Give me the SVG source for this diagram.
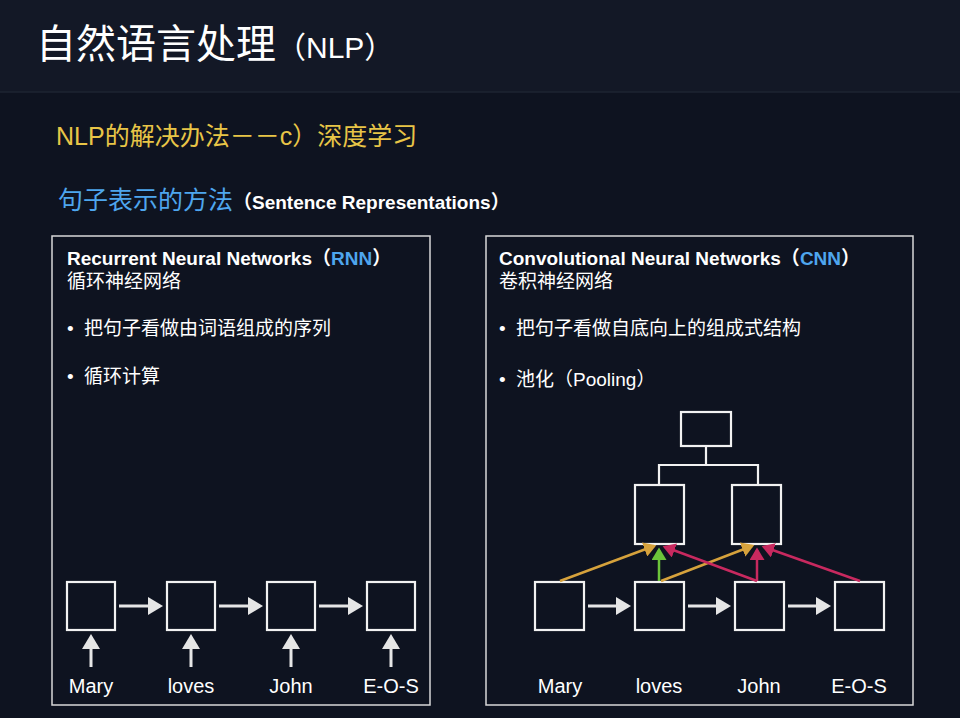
<svg xmlns="http://www.w3.org/2000/svg" width="960" height="718" viewBox="0 0 960 718">
<style>
text{font-family:"Liberation Sans","Noto Sans CJK SC",sans-serif;fill:#fff}
.b{fill:none;stroke:#f2f2f2;stroke-width:2.2}
.p{fill:none;stroke:#d8d8d8;stroke-width:1.5}
.w{stroke:#e6e6e6;stroke-width:3;fill:none}
.t{font-size:19px;font-weight:bold}
.s{font-size:19px}
.l{font-size:20px;text-anchor:middle}
</style>
<defs>
<marker id="aw" markerWidth="6" markerHeight="6" refX="4" refY="3" orient="auto" markerUnits="strokeWidth"><path d="M0,0L5,3L0,6z" fill="#e6e6e6"/></marker>
<marker id="ay" markerWidth="6" markerHeight="6" refX="4" refY="3" orient="auto" markerUnits="strokeWidth"><path d="M0,0L5,3L0,6z" fill="#d6a23c"/></marker>
<marker id="ag" markerWidth="6" markerHeight="6" refX="4" refY="3" orient="auto" markerUnits="strokeWidth"><path d="M0,0L5,3L0,6z" fill="#6cc43a"/></marker>
<marker id="am" markerWidth="6" markerHeight="6" refX="4" refY="3" orient="auto" markerUnits="strokeWidth"><path d="M0,0L5,3L0,6z" fill="#c8295f"/></marker>
</defs>
<rect width="960" height="718" fill="#0e1320"/>
<rect width="960" height="92" fill="#131826"/>
<line x1="0" y1="92" x2="960" y2="92" stroke="#1e2432" stroke-width="1.5"/>
<text x="36" y="58" font-size="40">自然语言处理<tspan font-size="30">（NLP）</tspan></text>
<text x="56" y="145" font-size="25" style="fill:#e8c547">NLP的解决办法－－c）深度学习</text>
<text x="58" y="209" font-size="25" style="fill:#4ea6ee">句子表示的方法<tspan font-size="19" font-weight="bold" style="fill:#fff">（Sentence Representations）</tspan></text>

<g id="rnn-panel">
<rect class="p" x="52" y="236" width="378" height="469"/>
<text class="t" x="67" y="265">Recurrent Neural Networks（<tspan style="fill:#4ea6ee">RNN</tspan>）</text>
<text class="s" x="67" y="288">循环神经网络</text>
<text class="s" x="67" y="335">•<tspan x="84">把句子看做由词语组成的序列</tspan></text>
<text class="s" x="67" y="383">•<tspan x="84">循环计算</tspan></text>
</g>
<g id="cnn-panel">
<rect class="p" x="486" y="236" width="427" height="469"/>
<text class="t" x="499" y="265">Convolutional Neural Networks（<tspan style="fill:#4ea6ee">CNN</tspan>）</text>
<text class="s" x="499" y="288">卷积神经网络</text>
<text class="s" x="499" y="335">•<tspan x="516">把句子看做自底向上的组成式结构</tspan></text>
<text class="s" x="499" y="386">•<tspan x="516">池化（Pooling）</tspan></text>
</g>

<g id="rnn-nodes">
<rect class="b" x="67" y="582" width="48" height="48"/>
<rect class="b" x="167" y="582" width="48" height="48"/>
<rect class="b" x="267" y="582" width="48" height="48"/>
<rect class="b" x="367" y="582" width="48" height="48"/>
<text class="l" x="91" y="693">Mary</text>
<text class="l" x="191" y="693">loves</text>
<text class="l" x="291" y="693">John</text>
<text class="l" x="391" y="693">E-O-S</text>
</g>
<g id="cnn-nodes">
<rect class="b" x="681" y="412" width="50" height="34"/>
<rect class="b" x="635" y="485" width="49" height="59"/>
<rect class="b" x="732" y="485" width="49" height="59"/>
<rect class="b" x="535" y="582" width="49" height="48"/>
<rect class="b" x="635" y="582" width="49" height="48"/>
<rect class="b" x="735" y="582" width="49" height="48"/>
<rect class="b" x="835" y="582" width="49" height="48"/>
<text class="l" x="560" y="693">Mary</text>
<text class="l" x="659" y="693">loves</text>
<text class="l" x="759" y="693">John</text>
<text class="l" x="859" y="693">E-O-S</text>
</g>

<g id="connectors">
<line class="w" x1="119" y1="606" x2="160" y2="606" marker-end="url(#aw)"/>
<line class="w" x1="219" y1="606" x2="260" y2="606" marker-end="url(#aw)"/>
<line class="w" x1="319" y1="606" x2="360" y2="606" marker-end="url(#aw)"/>
<line class="w" x1="91" y1="667" x2="91" y2="637" marker-end="url(#aw)"/>
<line class="w" x1="191" y1="667" x2="191" y2="637" marker-end="url(#aw)"/>
<line class="w" x1="291" y1="667" x2="291" y2="637" marker-end="url(#aw)"/>
<line class="w" x1="391" y1="667" x2="391" y2="637" marker-end="url(#aw)"/>
<line class="w" x1="588" y1="606" x2="628" y2="606" marker-end="url(#aw)"/>
<line class="w" x1="688" y1="606" x2="728" y2="606" marker-end="url(#aw)"/>
<line class="w" x1="788" y1="606" x2="828" y2="606" marker-end="url(#aw)"/>
<path d="M706,446V465M659,485V465H758V485" fill="none" stroke="#f2f2f2" stroke-width="2.2"/>
<line x1="560" y1="581" x2="654" y2="546" stroke="#d6a23c" stroke-width="2.5" marker-end="url(#ay)"/>
<line x1="661" y1="581" x2="752" y2="546" stroke="#d6a23c" stroke-width="2.5" marker-end="url(#ay)"/>
<line x1="659" y1="581" x2="659" y2="550" stroke="#6cc43a" stroke-width="2.5" marker-end="url(#ag)"/>
<line x1="757" y1="581" x2="665" y2="547" stroke="#c8295f" stroke-width="2.5" marker-end="url(#am)"/>
<line x1="757" y1="581" x2="757" y2="550" stroke="#c8295f" stroke-width="2.5" marker-end="url(#am)"/>
<line x1="860" y1="581" x2="764" y2="547" stroke="#c8295f" stroke-width="2.5" marker-end="url(#am)"/>
</g>
</svg>
